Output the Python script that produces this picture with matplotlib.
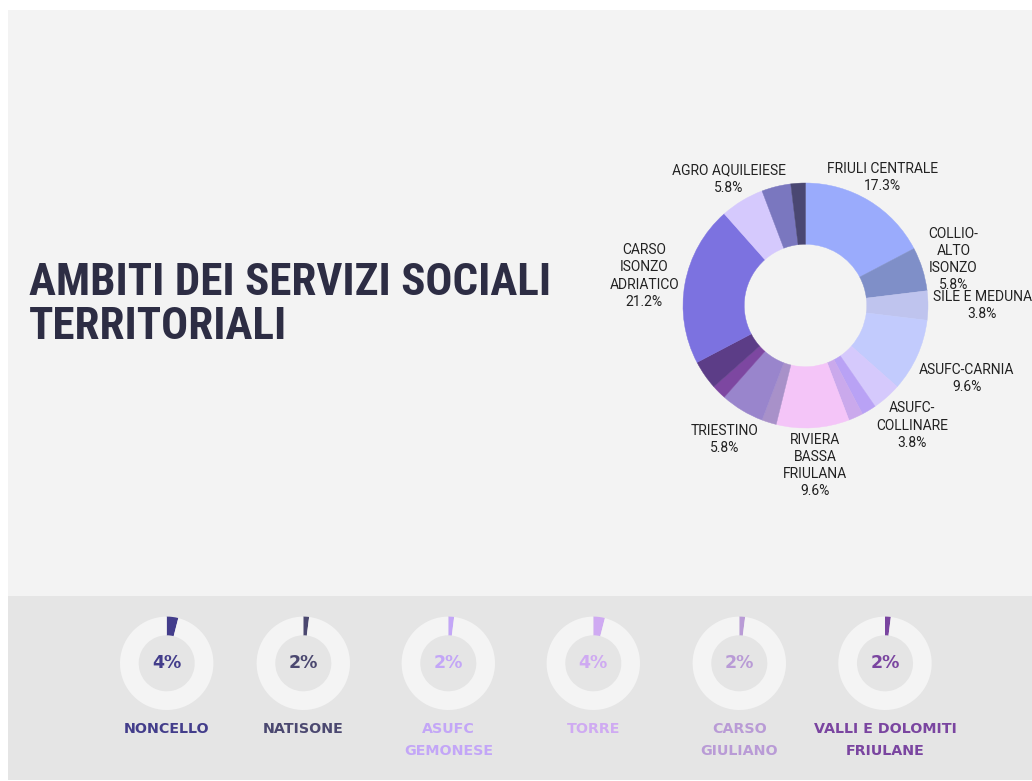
import numpy as np
import matplotlib
matplotlib.use("Agg")
import matplotlib.pyplot as plt
from matplotlib.patches import Rectangle

W, H = 1032, 781  # output size in pixels (dpi 100)

############################################################
#  Data                                                     #
############################################################

# main donut, clockwise from 12 o'clock, number of comuni per ambito (52 total)
slice_labels = [
    "FRIULI CENTRALE", "COLLIO-\nALTO\nISONZO", "SILE E MEDUNA", "ASUFC-CARNIA",
    "ASUFC-\nCOLLINARE", "", "", "RIVIERA\nBASSA\nFRIULANA", "", "TRIESTINO",
    "", "", "CARSO\nISONZO\nADRIATICO", "AGRO AQUILEIESE", "", "",
]
slice_counts = [9, 3, 2, 5, 2, 1, 1, 5, 1, 3, 1, 2, 11, 3, 2, 1]
slice_colors = [
    "#9aabfc", "#7f8fc8", "#bfc4ee", "#c2cbfd", "#d5c9fc", "#b9a2f5", "#caa9ec",
    "#f4c5f8", "#a891c9", "#9985cc", "#7d47a1", "#5c3d87", "#7c72e0", "#d5c9fd",
    "#7a77bf", "#4a4772",
]

# small ambiti shown in the bottom strip
small_names = ["NONCELLO", "NATISONE", "ASUFC\nGEMONESE", "TORRE", "CARSO\nGIULIANO",
               "VALLI E DOLOMITI\nFRIULANE"]
small_pct = [4, 2, 2, 4, 2, 2]
small_colors = ["#433d8b", "#4b4870", "#c3a6f7", "#cfaaf2", "#b99bd6", "#7a45a0"]

TITLE = "AMBITI DEI SERVIZI SOCIALI\nTERRITORIALI"

############################################################
#  Layout (pixels)                                          #
############################################################
PIE_CX, PIE_CY, PIE_R = 805.5, 305.5, 122.5
RING_X = [166.7, 303.3, 448.3, 593.3, 739.3, 885.0]
RING_Y, RING_R = 663.3, 46.7
TITLE_W = 520     # width of the first title line
TITLE_PITCH = 44  # distance between the two title lines
LABEL_FONT = ["Roboto", "DejaVu Sans"]
BOLD_FONT = ["DejaVu Sans"]
TITLE_FONT = ["Roboto Condensed", "Open Sans Condensed", "Noto Sans", "DejaVu Sans"]


def px_axes(fig, cx, cy, half):
    """square axes centred on pixel (cx, cy), y measured from the top"""
    return fig.add_axes([(cx - half) / W, (H - cy - half) / H, 2 * half / W, 2 * half / H])


fig = plt.figure(figsize=(W / 100, H / 100), dpi=100)
fig.patch.set_facecolor("white")
renderer = fig.canvas.get_renderer()

# background panels + title
bg = fig.add_axes([0, 0, 1, 1])
bg.set_xlim(0, W)
bg.set_ylim(H, 0)
bg.axis("off")
bg.add_patch(Rectangle((8, 10), W - 8, 586, color="#f3f3f3", lw=0))
bg.add_patch(Rectangle((8, 596), W - 8, 184, color="#e5e5e5", lw=0))

title_kw = dict(fontweight="black", fontstretch="condensed", family=TITLE_FONT)
one = bg.text(0, 0, TITLE.split("\n")[0], fontsize=36, **title_kw)
tsize = 36 * TITLE_W / one.get_window_extent(renderer).width
one.set_fontsize(tsize)
two = bg.text(0, 0, TITLE, fontsize=tsize, linespacing=1.0, **title_kw)
base_pitch = two.get_window_extent(renderer).height - one.get_window_extent(renderer).height
one.remove()
two.remove()
bg.text(29, 305, TITLE, ha="left", va="center", fontsize=tsize, color="#2d2d44",
        linespacing=TITLE_PITCH / base_pitch, **title_kw)

# main donut
half = 200
ax = px_axes(fig, PIE_CX, PIE_CY, half)
wedges, _ = ax.pie(slice_counts, colors=slice_colors, startangle=90, counterclock=False,
                   wedgeprops=dict(width=0.5, linewidth=0.3))
for w, c in zip(wedges, slice_colors):
    w.set_edgecolor(c)
lim = half / PIE_R
ax.set_xlim(-lim, lim)
ax.set_ylim(-lim, lim)
ax.axis("off")

total = sum(slice_counts)
gap = 4.5 / PIE_R
lab_kw = dict(fontsize=10, family=LABEL_FONT, color="#222222", linespacing=1.28)
for w, lab, cnt in zip(wedges, slice_labels, slice_counts):
    if not lab:
        continue
    lines = lab.split("\n") + [f"{100 * cnt / total:.1f}%"]
    txt = ax.text(0, 0, "\n".join(lines), ha="center", va="center", clip_on=False, **lab_kw)
    pitch = txt.get_window_extent(renderer).height / len(lines) / PIE_R
    boxes = []  # (half width, vertical offset) of every line, in data units
    for i, ln in enumerate(lines):
        t = ax.text(0, 0, ln, **lab_kw)
        hw = t.get_window_extent(renderer).width / 2 / PIE_R
        t.remove()
        boxes.append((hw, ((len(lines) - 1) / 2 - i) * pitch))
    mid = np.radians((w.theta1 + w.theta2) / 2)
    ux, uy = np.cos(mid), np.sin(mid)
    lo, hi = 0.3, 3.0
    for _ in range(40):  # push the label out until its nearest line clears the ring
        s = (lo + hi) / 2
        cx, cy = s * ux, s * uy
        d = min(np.hypot(np.clip(0, cx - hw, cx + hw),
                         np.clip(0, cy + off - pitch / 2, cy + off + pitch / 2))
                for hw, off in boxes)
        if d < 1 + gap:
            lo = s
        else:
            hi = s
    txt.set_position((hi * ux, hi * uy))

# bottom strip of small donuts
for x, name, pct, col in zip(RING_X, small_names, small_pct, small_colors):
    a = px_axes(fig, x, RING_Y, RING_R)
    a.pie([pct, 100 - pct], colors=[col, "#f4f4f4"], startangle=90, counterclock=False,
          wedgeprops=dict(width=0.4, linewidth=0))
    a.set_xlim(-1, 1)
    a.set_ylim(-1, 1)
    a.axis("off")
    a.text(0, 0, f"{pct}%", ha="center", va="center", fontsize=12.5, fontweight="bold",
           family=BOLD_FONT, color=col)
    bg.text(x, 722, name, ha="center", va="top", fontsize=10.3, fontweight="bold",
            family=BOLD_FONT, color=col, linespacing=1.7)

fig.savefig("out.png", dpi=100, facecolor=fig.get_facecolor())
